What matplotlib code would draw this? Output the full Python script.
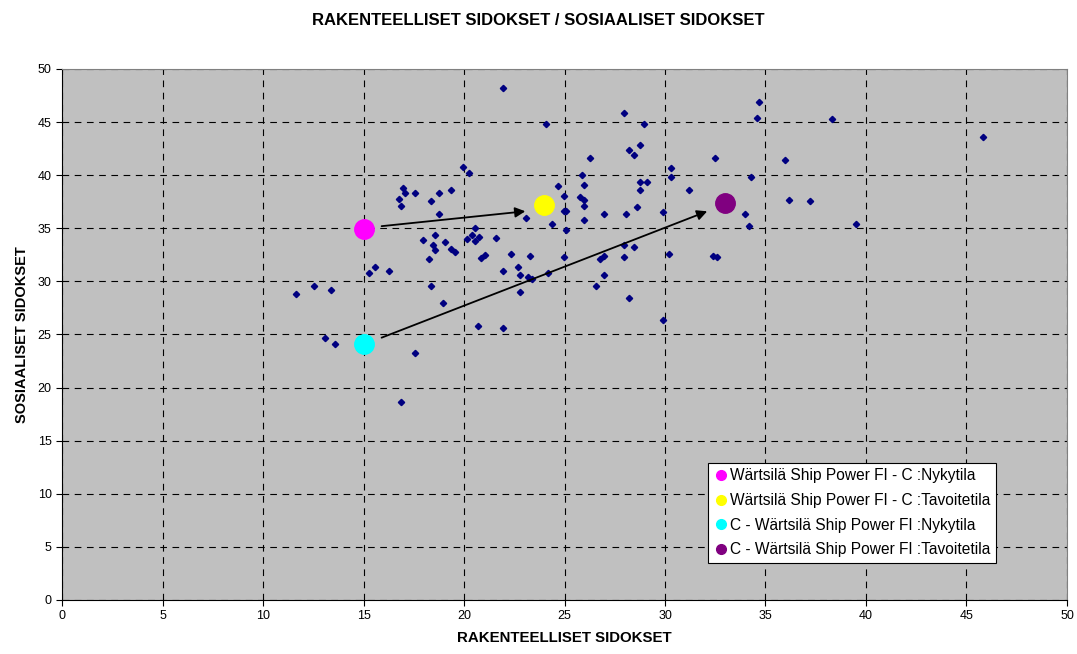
import matplotlib.pyplot as plt

# small scatter points (rakenteelliset, sosiaaliset)
x_pts = [21.96, 24.08, 19.97, 20.26, 27.98, 28.97, 28.19, 28.46, 28.77, 26.27,
         25.87, 25.97, 24.66, 28.77, 29.09, 28.77, 24.98, 25.77, 25.97, 25.97,
         24.98, 25.07, 28.59, 23.08, 26.98, 28.08, 25.97, 24.38, 25.07, 20.56,
         20.16, 20.38, 20.56, 20.76, 21.58, 22.35, 23.27, 20.86, 21.06, 24.98,
         26.77, 26.98, 27.98, 28.46, 27.98, 21.96, 22.67, 22.77, 23.17, 23.38,
         24.18, 26.98, 26.57, 22.77, 28.19, 20.68, 21.96,
         29.88, 30.28, 30.28, 31.18, 32.47, 34.28, 34.69, 34.56, 33.98, 34.18,
         30.18, 32.37, 32.60, 29.88,
         38.29, 35.99, 36.18, 37.20, 39.49, 45.80,
         16.97, 17.06, 16.75, 16.85, 17.56, 18.36, 18.77, 19.37, 18.77, 17.96,
         18.56, 18.47, 18.57, 19.07, 19.35, 19.57, 18.26, 15.56, 15.26, 16.25,
         11.64, 12.55, 13.37, 18.36, 18.97, 13.07, 13.57, 17.56, 16.85]
y_pts = [48.2, 44.8, 40.8, 40.2, 45.9, 44.8, 42.4, 41.9, 42.8, 41.6,
         40.0, 39.1, 39.0, 39.4, 39.4, 38.6, 38.0, 37.9, 37.7, 37.1,
         36.6, 36.6, 37.0, 36.0, 36.3, 36.3, 35.8, 35.4, 34.8, 35.0,
         34.0, 34.4, 33.8, 34.2, 34.1, 32.6, 32.4, 32.2, 32.5, 32.3,
         32.1, 32.4, 33.4, 33.2, 32.3, 31.0, 31.4, 30.6, 30.4, 30.2,
         30.8, 30.6, 29.6, 29.0, 28.4, 25.8, 25.6,
         36.5, 40.7, 39.8, 38.6, 41.6, 39.8, 46.9, 45.4, 36.3, 35.2,
         32.6, 32.4, 32.3, 26.4,
         45.3, 41.4, 37.7, 37.6, 35.4, 43.6,
         38.8, 38.3, 37.8, 37.1, 38.3, 37.6, 38.3, 38.6, 36.3, 33.9,
         34.4, 33.4, 33.0, 33.7, 33.05, 32.8, 32.1, 31.4, 30.8, 31.0,
         28.8, 29.6, 29.2, 29.6, 28.0, 24.7, 24.1, 23.3, 18.6]

# highlighted positions
labels = ['Wärtsilä Ship Power FI - C :Nykytila',
          'Wärtsilä Ship Power FI - C :Tavoitetila',
          'C - Wärtsilä Ship Power FI :Nykytila',
          'C - Wärtsilä Ship Power FI :Tavoitetila']
big_x = [15, 24, 15, 33]
big_y = [34.9, 37.2, 24.1, 37.4]
big_colors = ['#FF00FF', '#FFFF00', '#00FFFF', '#800080']

# arrows (start, end)
arrows = [((15.9, 35.2), (23.05, 36.6)),
          ((15.9, 24.7), (32.1, 36.6))]

plt.rcParams['font.family'] = ['Liberation Sans', 'DejaVu Sans']

fig = plt.figure(figsize=(10.77, 6.54), dpi=100)
ax = fig.add_axes([0.0576, 0.0826, 0.9331, 0.8119])
ax.set_facecolor('#C0C0C0')

ax.plot(x_pts, y_pts, 'D', color='#000080', markersize=3.2, linestyle='none')

for (s, e) in arrows:
    ax.annotate('', xy=e, xytext=s,
                arrowprops=dict(arrowstyle='-|>', color='black', lw=1.3,
                                mutation_scale=15, shrinkA=0, shrinkB=0))

for bx, by, c, lab in zip(big_x, big_y, big_colors, labels):
    ax.plot([bx], [by], 'o', color=c, markersize=14, label=lab, zorder=5)

ax.set_xlim(0, 50)
ax.set_ylim(0, 50)
ax.set_xticks(range(0, 51, 5))
ax.set_yticks(range(0, 51, 5))
ax.tick_params(labelsize=9, direction='out', length=4)
ax.grid(True, color='black', linestyle=(0, (6, 5)), linewidth=0.8)
ax.set_axisbelow(True)
for sp in ax.spines.values():
    sp.set_color('#808080')
ax.spines['left'].set_color('black')
ax.spines['bottom'].set_color('black')

ax.set_xlabel('RAKENTEELLISET SIDOKSET', fontsize=10.8, fontweight='bold', labelpad=6)
ax.set_ylabel('SOSIAALISET SIDOKSET', fontsize=10.5, fontweight='bold', labelpad=6)
fig.text(0.5, 0.968, 'RAKENTEELLISET SIDOKSET / SOSIAALISET SIDOKSET',
         ha='center', va='center', fontsize=12, fontweight='bold')

leg = ax.legend(loc='upper left', bbox_to_anchor=(708 / 1077, 1 - 463 / 654),
                bbox_transform=fig.transFigure, fontsize=11.2, markerscale=0.5,
                handletextpad=0.05, handlelength=1.0, borderaxespad=0,
                borderpad=0.35, labelspacing=0.62, fancybox=False, framealpha=1,
                edgecolor='black')
leg.get_frame().set_linewidth(0.8)

plt.savefig('out.png', dpi=100)
